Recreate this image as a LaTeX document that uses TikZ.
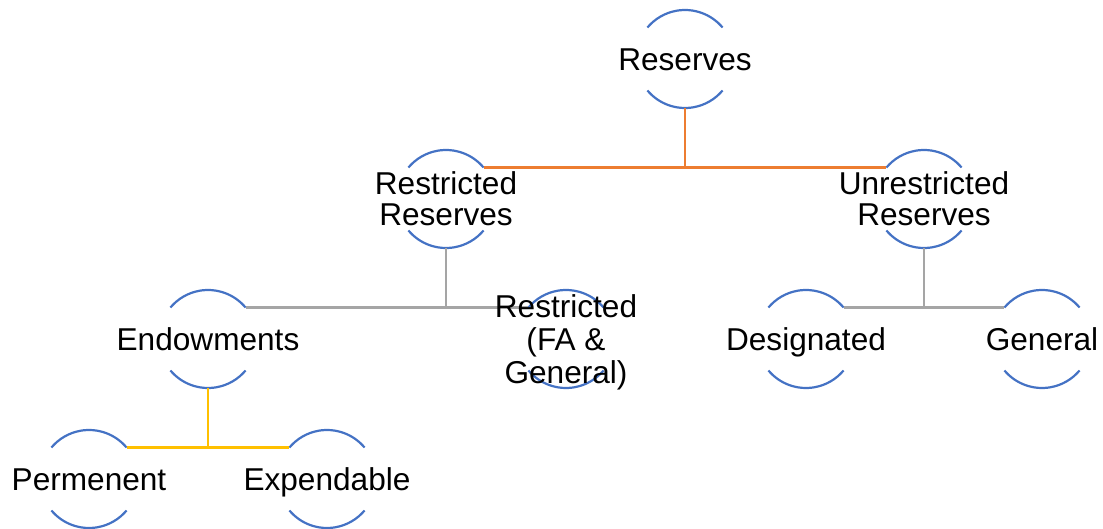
\documentclass[tikz,border=0pt]{standalone}
\usepackage{fontspec}
\setmainfont{Liberation Sans}
\usetikzlibrary{shapes, calc}
\usepackage{xcolor}
\definecolor{ringblue}{HTML}{4472C4}
\definecolor{linkorange}{HTML}{ED7D31}
\definecolor{linkgray}{HTML}{A5A5A5}
\definecolor{linkyellow}{HTML}{FFC000}

\begin{document}
\begin{tikzpicture}[x=1pt, y=1pt,
    ring/.style={circle, minimum size=98pt, inner sep=0pt, outer sep=0pt},
    lbl/.style={align=center, inner sep=0pt, font=\fontsize{31.6}{31}\selectfont},
    oneline/.style={text height=22.5pt, text depth=0pt},
    link/.style={line width=2.2pt}]
    \useasboundingbox (0,0) rectangle (1103,528);

    \node[ring] (res)  at ( 685,469) {};
    \node[ring] (rr)   at ( 446,329) {};
    \node[ring] (ur)   at ( 924,329) {};
    \node[ring] (endw) at ( 208,189) {};
    \node[ring] (rfa)  at ( 566,189) {};
    \node[ring] (desg) at ( 806,189) {};
    \node[ring] (genl) at (1042,189) {};
    \node[ring] (perm) at (  89, 49) {};
    \node[ring] (expd) at ( 327, 49) {};

    \foreach \n in {res,rr,ur,endw,rfa,desg,genl,perm,expd}
    {
        \draw[ringblue, line width=2.2pt] (\n.40) arc (40:140:49pt);
        \draw[ringblue, line width=2.2pt] (\n.220) arc (220:320:49pt);
    }

    \draw[link, linkorange] (res.south) -- (res.south |- rr.40);
    \draw[link, linkorange] (rr.40) -- (ur.140);

    \draw[link, linkgray] (rr.south) -- (rr.south |- endw.40);
    \draw[link, linkgray] (endw.40) -- (rfa.140);
    \draw[link, linkgray] (ur.south) -- (ur.south |- desg.40);
    \draw[link, linkgray] (desg.40) -- (genl.140);

    \draw[link, linkyellow] (endw.south) -- (endw.south |- perm.40);
    \draw[link, linkyellow] (perm.40) -- (expd.140);

    \node[lbl, oneline] (res-t)  at (res)  {Reserves};
    \node[lbl]          (rr-t)   at (rr)   {Restricted\\Reserves};
    \node[lbl]          (ur-t)   at (ur)   {Unrestricted\\Reserves};
    \node[lbl, oneline] (endw-t) at (endw) {Endowments};
    \node[lbl, font=\fontsize{31.6}{33}\selectfont] (rfa-t) at ($(rfa)+(0,-3.5)$) {Restricted\\(FA \&\\General)};
    \node[lbl, oneline] (desg-t) at (desg) {Designated};
    \node[lbl, oneline] (genl-t) at (genl) {General};
    \node[lbl, oneline] (perm-t) at (perm) {Permenent};
    \node[lbl, oneline] (expd-t) at (expd) {Expendable};
\end{tikzpicture}
\end{document}
